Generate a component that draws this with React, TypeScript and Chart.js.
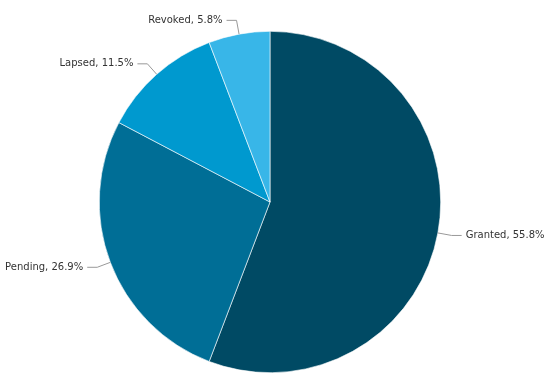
import React, { useEffect, useRef } from "react";
import { Chart, registerables } from "chart.js";

Chart.register(...registerables);

const categories = ["Granted", "Pending", "Lapsed", "Revoked"];
const values = [55.8, 26.9, 11.5, 5.8];
const colors = ["#004a64", "#006e96", "#0099cf", "#38b6e8"];

const labelPlugin = {
  id: "pieLabels",
  afterDatasetsDraw(chart: any) {
    const ctx = chart.ctx;
    const meta = chart.getDatasetMeta(0);
    ctx.save();
    ctx.font = "10px 'DejaVu Sans', Verdana, sans-serif";
    ctx.textBaseline = "middle";
    meta.data.forEach((arc: any, i: number) => {
      const { x, y, startAngle, endAngle, outerRadius } = arc.getProps(
        ["x", "y", "startAngle", "endAngle", "outerRadius"],
        true
      );
      const mid = (startAngle + endAngle) / 2;
      const cx = Math.cos(mid);
      const cy = Math.sin(mid);
      const x0 = x + cx * outerRadius;
      const y0 = y + cy * outerRadius;
      const x1 = x + cx * (outerRadius + 14);
      const y1 = y + cy * (outerRadius + 14);
      const right = cx >= 0;
      const x2 = x1 + (right ? 10 : -10);
      ctx.strokeStyle = "#999999";
      ctx.lineWidth = 1;
      ctx.beginPath();
      ctx.moveTo(x0, y0);
      ctx.lineTo(x1, y1);
      ctx.lineTo(x2, y1);
      ctx.stroke();
      ctx.fillStyle = "#333333";
      ctx.textAlign = right ? "left" : "right";
      const text = `${categories[i]}, ${values[i].toFixed(1)}%`;
      ctx.fillText(text, x2 + (right ? 4 : -4), y1);
    });
    ctx.restore();
  },
};

export default function App() {
  const ref = useRef<HTMLCanvasElement | null>(null);
  useEffect(() => {
    if (!ref.current) return;
    const chart = new Chart(ref.current, {
      type: "pie",
      data: {
        labels: categories,
        datasets: [
          {
            data: values,
            backgroundColor: colors,
            borderColor: "#ffffff",
            borderWidth: 0.6,
          },
        ],
      },
      options: {
        animation: false,
        responsive: false,
        maintainAspectRatio: false,
        layout: { padding: { top: 31, bottom: 15, left: 99, right: 109 } },
        plugins: {
          legend: { display: false },
          tooltip: { enabled: false },
        },
      },
      plugins: [labelPlugin],
    });
    return () => chart.destroy();
  }, []);
  return (
    <div style={{ position: "fixed", left: 0, top: 0, width: 550, height: 388, background: "#ffffff" }}>
      <canvas ref={ref} width={550} height={388} style={{ width: 550, height: 388 }} />
    </div>
  );
}
